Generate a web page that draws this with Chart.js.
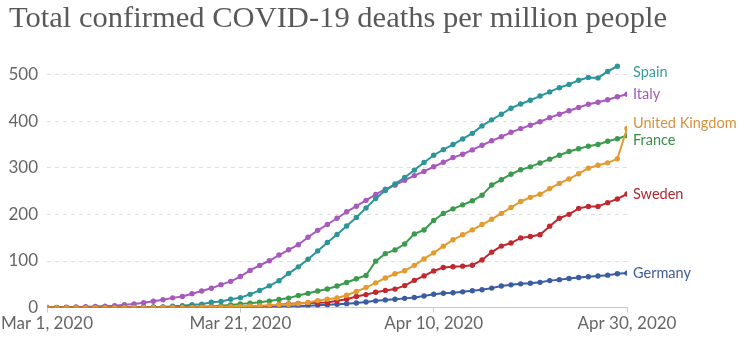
<!DOCTYPE html>
<html>
<head>
<meta charset="utf-8">
<script src="https://cdn.jsdelivr.net/npm/chart.js@4.4.1/dist/chart.umd.min.js"></script>
<style>
  html, body { margin: 0; padding: 0; background: #fff; }
  #wrap { width: 748px; height: 339px; position: relative; }
</style>
</head>
<body>
<div id="wrap"><canvas id="deaths"></canvas></div>
<script>
// cumulative confirmed deaths per million, one value per day from Mar 1 to Apr 30, 2020
const tickLabels = ["Mar 1, 2020", "Mar 21, 2020", "Apr 10, 2020", "Apr 30, 2020"];

const spain = [
  0, 0, 0, 0.02, 0.04, 0.06, 0.11, 0.21, 0.36, 0.6,
  0.75, 1.16, 1.18, 2.84, 4.17, 6.18, 7.32, 11.4, 13.3, 17.8,
  21.4, 28.4, 36.8, 46.7, 57.7, 73.5, 87.5, 103.9, 121.7, 139.6,
  157.0, 175.2, 193.6, 214.0, 233.9, 251.2, 265.6, 279.3, 295.1, 311.3,
  327, 339, 350, 362, 374, 390, 403, 415, 428, 437,
  445, 454, 463, 472, 479, 488, 494, 493, 507, 518
];
const italy = [
  0.48, 0.56, 0.86, 1.31, 1.77, 2.45, 3.26, 3.85, 6.05, 7.66,
  10.4, 13.7, 16.8, 20.9, 23.8, 29.9, 35.7, 41.4, 49.3, 56.3,
  66.7, 79.8, 90.6, 100.5, 112.8, 124.1, 135.0, 151.1, 165.8, 178.3,
  191.7, 205.6, 217.6, 230.2, 242.8, 254.1, 262.8, 273.3, 283.3, 292.2,
  302.3, 311.8, 322.0, 329.1, 338.5, 348.4, 358.0, 366.7, 376.2, 384.2,
  391.3, 398.8, 407.7, 414.9, 422.6, 429.5, 436.4, 440.7, 446.2, 452.5, 457.9
];
const uk = [
  0, 0, 0, 0, 0, 0.01, 0.03, 0.03, 0.04, 0.06,
  0.09, 0.12, 0.12, 0.15, 0.31, 0.52, 0.81, 1.05, 1.53, 2.12,
  2.61, 3.43, 4.14, 4.93, 6.22, 6.85, 8.51, 11.18, 15.0, 18.1,
  20.7, 26.4, 34.6, 43.0, 53.1, 63.5, 72.7, 79.1, 90.7, 104.5,
  117.5, 131.9, 145.5, 156.3, 166.9, 178.3, 189.5, 202.2, 214.7, 227.8,
  236.6, 243.2, 255.4, 266.6, 276.0, 287.3, 299.3, 305.4, 310.7, 319.3, 384.4
];
const france = [
  0.03, 0.03, 0.05, 0.06, 0.06, 0.09, 0.14, 0.17, 0.29, 0.29,
  0.51, 0.74, 0.74, 1.21, 1.39, 1.39, 2.27, 2.27, 3.74, 5.7,
  8.0, 9.5, 11.5, 14.0, 17.5, 20.4, 26.0, 30.6, 35.5, 39.9,
  46.3, 54.0, 61.8, 69.0, 99.7, 115.8, 123.8, 136.5, 158.2, 166.5,
  187.1, 202.2, 211.9, 220.5, 229.3, 241.0, 263.0, 274.5, 286.2, 296.0,
  302.1, 310.5, 318.6, 327.0, 334.9, 340.8, 346.5, 350.2, 356.9, 362.5, 369.0
];
const sweden = [
  0, 0, 0, 0, 0, 0, 0, 0, 0, 0,
  0.1, 0.1, 0.1, 0.2, 0.3, 0.6, 0.7, 1.0, 1.1, 1.6,
  2.0, 2.1, 2.5, 3.6, 6.1, 7.6, 9.1, 10.1, 10.4, 10.9,
  14.5, 17.8, 23.7, 27.9, 33.0, 36.9, 39.7, 47.2, 58.5, 68.0,
  78.5, 86.1, 87.8, 89.0, 91.0, 102.3, 119.0, 132.0, 138.6, 149.6,
  152.5, 156.4, 174.8, 191.8, 200.1, 213.0, 217.0, 217.2, 225.2, 233.2, 243.8
];
const germany = [
  0, 0, 0, 0, 0, 0, 0, 0, 0.02, 0.02,
  0.04, 0.06, 0.07, 0.11, 0.13, 0.16, 0.24, 0.32, 0.5, 0.8,
  0.8, 0.9, 1.1, 1.4, 1.8, 2.4, 3.0, 4.0, 5.0, 6.0,
  7.3, 8.5, 10.0, 12.0, 14.5, 16.5, 18.0, 19.8, 21.7, 25.0,
  28.6, 30.7, 32.0, 33.8, 36.1, 38.2, 41.8, 46.5, 48.8, 51.0,
  52.3, 54.2, 57.9, 60.0, 62.6, 64.5, 66.2, 67.9, 69.6, 72.6, 74.0
];

// line colour, label colour
const countries = [
  { name: "United Kingdom", values: uk, color: "#e39a2f", text: "#d8903c" },
  { name: "Sweden", values: sweden, color: "#c0282f", text: "#b2282e" },
  { name: "Germany", values: germany, color: "#3a5ca4", text: "#3d5a99" },
  { name: "France", values: france, color: "#3b9a4b", text: "#3a8e48" },
  { name: "Spain", values: spain, color: "#2b9599", text: "#3a9ca1" },
  { name: "Italy", values: italy, color: "#a759bd", text: "#a25cb6" },
];

// small manual nudges so the end labels read cleanly
const labelNudge = { Spain: 6 };

const endLabels = {
  id: "endLabels",
  afterDatasetsDraw(chart) {
    const { ctx, chartArea } = chart;
    const items = chart.data.datasets.map((ds, i) => {
      const pts = chart.getDatasetMeta(i).data;
      const last = pts[pts.length - 1];
      return { name: ds.label, color: countries[i].text, y: last.y + (labelNudge[ds.label] || 0) };
    });
    // push apart labels that sit too close
    items.sort((a, b) => a.y - b.y);
    const gap = 17;
    for (let k = 0; k < 5; k++) {
      for (let i = 1; i < items.length; i++) {
        const d = items[i].y - items[i - 1].y;
        if (d < gap) {
          const shift = (gap - d) / 2;
          items[i].y += shift;
          items[i - 1].y -= shift;
        }
      }
    }
    ctx.save();
    ctx.font = '14.5px Lato';
    ctx.textBaseline = "middle";
    ctx.textAlign = "left";
    items.forEach((it) => {
      ctx.fillStyle = it.color;
      ctx.fillText(it.name, chartArea.right + 6, it.y);
    });
    ctx.restore();
  },
};

const headline = {
  id: "headline",
  afterDraw(chart) {
    const ctx = chart.ctx;
    const text = "Total confirmed COVID-19 deaths per million people";
    ctx.save();
    ctx.font = '30px "Liberation Serif"';
    ctx.fillStyle = "#595959";
    ctx.textBaseline = "alphabetic";
    const w = ctx.measureText(text).width;
    ctx.translate(9, 27);
    ctx.scale(658 / w, 1);
    ctx.fillText(text, 0, 0);
    ctx.restore();
  },
};

const datasets = countries.map((c) => ({
  label: c.name,
  data: c.values.map((v, i) => ({ x: i, y: v })),
  borderColor: c.color,
  backgroundColor: c.color,
  pointBackgroundColor: c.color,
  borderWidth: 2,
  pointRadius: 2.7,
  pointBorderWidth: 0,
  tension: 0,
}));

new Chart(document.getElementById("deaths"), {
  type: "line",
  data: { datasets },
  options: {
    responsive: true,
    maintainAspectRatio: false,
    animation: false,
    layout: { padding: { top: 56, right: 121, left: 0, bottom: 4 } },
    plugins: {
      legend: { display: false },
      tooltip: { enabled: false },
    },
    scales: {
      x: {
        type: "linear",
        min: 0,
        max: 60,
        ticks: {
          stepSize: 20,
          autoSkip: false,
          maxRotation: 0,
          color: "#666",
          font: { family: "Lato", size: 17 },
          padding: 1,
          callback: (v) => tickLabels[v / 20],
        },
        grid: { drawOnChartArea: false, drawTicks: true, tickLength: 5, color: "#c8c8c8" },
        border: { display: true, color: "#c8c8c8" },
      },
      y: {
        min: 0,
        max: 540,
        afterFit: (scale) => { scale.width = 44; },
        ticks: {
          stepSize: 100,
          includeBounds: false,
          color: "#666",
          font: { family: "Lato", size: 17 },
          padding: 9,
        },
        grid: { color: "#dedede", drawTicks: false },
        border: { display: false, dash: [4, 4] },
      },
    },
  },
  plugins: [endLabels, headline],
});
</script>
</body>
</html>
